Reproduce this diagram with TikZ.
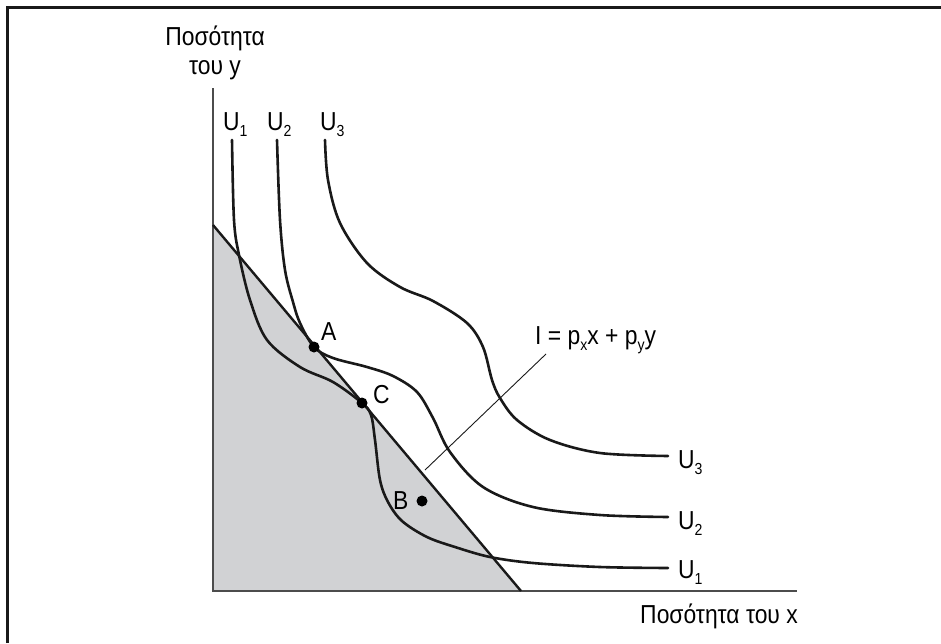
\documentclass[tikz,border=0pt]{standalone}
\usepackage{fontspec}
\setmainfont{Liberation Sans}[FakeStretch=0.88]
\usetikzlibrary{positioning}
\definecolor{budgetgray}{RGB}{209,210,212}
\newcommand{\lowidx}[1]{\raisebox{-0.5ex}{\fontsize{16}{16}\selectfont #1}}

\begin{document}
\begin{tikzpicture}[x=1pt, y=-1pt,
  frame/.style={line width=3pt, black!90},
  axis/.style={line width=1.5pt, black!70},
  curve/.style={line width=2.6pt, black!90, line cap=round},
  budget/.style={line width=2.4pt, black!90},
  lead/.style={line width=0.9pt, black!90},
  dot/.style={circle, fill=black, inner sep=0pt, minimum size=11pt},
  lbl/.style={font=\fontsize{26}{29}\selectfont, inner sep=0pt}
]
\useasboundingbox (0,0) rectangle (941,643);
% ---------------- frame ----------------
\draw[frame] (7,643) -- (7,7) -- (941,7);
% ---------------- axes and budget set ----------------
\coordinate (O) at (213,591);
\coordinate (ytop) at (213,88);
\coordinate (xend) at (797,591);
\coordinate (bl-top) at (213,225);
\coordinate (bl-bot) at (521,591);
\fill[budgetgray] (O) -- (bl-top) -- (bl-bot) -- cycle;
\draw[axis] (ytop) -- (O) -- (xend);
\draw[budget] (bl-top) -- (bl-bot);
% ---------------- indifference curves ----------------
\draw[curve] plot[smooth, tension=0.55] coordinates {
  (232,140) (234,220) (239,255) (250,300) (267,340) (300,367) (333,382)
  (362,403) (371,415) (375,440) (380,480) (388,502) (402,521) (427,537)
  (455,547) (490,557) (533,563) (600,567) (668,568)};
\draw[curve] plot[smooth, tension=0.55] coordinates {
  (277,140) (280,220) (285,270) (293,302) (300,323) (314,347) (333,358)
  (367,367) (393,376) (417,392) (433,418) (450,452) (483,487) (533,507)
  (600,515) (668,517)};
\draw[curve] plot[smooth, tension=0.55] coordinates {
  (325,140) (328,180) (340,223) (367,263) (400,287) (433,301) (467,323)
  (483,347) (492,380) (500,398) (517,420) (550,440) (600,453) (668,456)};
% ---------------- points ----------------
\node[dot] (A) at (314,347) {};
\node[dot] (C) at (362,403) {};
\node[dot] (B) at (422,501) {};
\node[lbl, anchor=base west] (A-lbl) at (321,340) {A};
\node[lbl, anchor=base west] (C-lbl) at (373,403) {C};
\node[lbl, anchor=base west] (B-lbl) at (393,509) {B};
% ---------------- labels ----------------
\node[lbl, anchor=base west] (U1-top) at (223,130) {U\lowidx{1}};
\node[lbl, anchor=base west] (U2-top) at (267,130) {U\lowidx{2}};
\node[lbl, anchor=base west] (U3-top) at (320,130) {U\lowidx{3}};
\node[lbl, anchor=base west] (U3-end) at (678,468) {U\lowidx{3}};
\node[lbl, anchor=base west] (U2-end) at (678,529) {U\lowidx{2}};
\node[lbl, anchor=base west] (U1-end) at (678,578) {U\lowidx{1}};
\node[lbl, anchor=base west] (I-lbl) at (535,344) {I = p\lowidx{x}x + p\lowidx{y}y};
\coordinate (lead-top) at (546,354);
\coordinate (lead-bot) at (425,470);
\draw[lead] (lead-top) -- (lead-bot);
\node[lbl, anchor=north, align=center] (y-lbl) at (215,26) {Ποσότητα\\του y};
\node[lbl, anchor=base east] (x-lbl) at (798,623) {Ποσότητα του x};
\end{tikzpicture}
\end{document}
